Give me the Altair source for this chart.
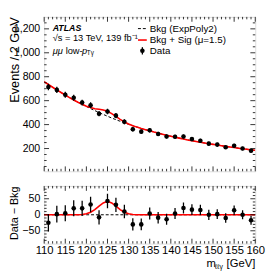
import altair as alt
import pandas as pd

# ---- data ----
mass = [111, 113, 115, 117, 119, 121, 123, 125, 127, 129, 131, 133, 135,
        137, 139, 141, 143, 145, 147, 149, 151, 153, 155, 157, 159]
events = [714, 690, 649, 624, 584, 562, 491, 510, 475, 423, 361, 341, 353,
          322, 300, 298, 300, 279, 265, 241, 233, 211, 224, 200, 181]
events_err = [27, 26, 25, 25, 24, 24, 22, 23, 22, 21, 19, 18, 19,
              18, 17, 17, 17, 17, 16, 16, 15, 15, 15, 14, 14]
resid = [-25, 2, 5, 20, 20, 32, -8, 43, 31, 10, -30, -30, 4,
         -9, -14, 4, 21, 16, 15, 0, 2, -10, 14, 0, -17]

curve_mass = list(range(110, 161))
bkg = [758, 735, 712, 690, 668, 647, 626, 606, 587, 569, 551, 534, 517, 501,
       485, 470, 455, 441, 428, 415, 402, 390, 379, 368, 358, 348, 338, 329,
       320, 311, 303, 295, 287, 279, 272, 265, 259, 252, 246, 240, 235, 229,
       224, 218, 213, 208, 203, 198, 194, 189, 185]
sig = [0, 0, 0, 0, 0, 0, 0, 0, 0, 1, 3, 8, 16, 27, 37, 42, 37, 27, 16, 8, 3, 1,
       0, 0, 0, 0, 0, 0, 0, 0, 0, 0, 0, 0, 0, 0, 0, 0, 0, 0, 0, 0, 0, 0, 0, 0,
       0, 0, 0, 0, 0]

x_major = [110, 115, 120, 125, 130, 135, 140, 145, 150, 155, 160]
x_minor = [v for v in range(110, 161) if v % 5 != 0]
yu_major = [200, 400, 600, 800, 1000, 1200]
yu_minor = [v for v in range(50, 1300, 50) if v % 200 != 0]
yl_major = [-50, 0, 50]
yl_minor = [v for v in range(-80, 90, 10) if v % 50 != 0]

# ---- tables ----
pts = pd.DataFrame({"m": mass, "n": events, "e": events_err, "r": resid})
pts["lo"] = pts["n"] - pts["e"]
pts["hi"] = pts["n"] + pts["e"]
pts["rlo"] = pts["r"] - pts["e"]
pts["rhi"] = pts["r"] + pts["e"]
cur = pd.DataFrame({"m": curve_mass, "b": bkg, "s": sig})
cur["bs"] = cur["b"] + cur["s"]
one = pd.DataFrame({"d": [0]})

W, HU, HL = 216, 158, 59
NARROW = "Liberation Sans Narrow, Arial Narrow, Liberation Sans, sans-serif"
REG = "Liberation Sans, Arial, sans-serif"

xs = alt.Scale(domain=[110, 160], nice=False, zero=False)
yus = alt.Scale(domain=[10, 1300], nice=False, zero=False)
yls = alt.Scale(domain=[-90, 90], nice=False, zero=False)

AX_YU = alt.Axis(
    values=yu_major, domain=False, ticks=False, grid=False,
    labelFont=NARROW, labelFontSize=10.8, labelColor="black",
    labelPadding=4.5, labelOverlap=False, labelFlush=False,
    title="Events / 2 GeV", titleFont=REG,
    titleFontSize=13, titleFontWeight="normal", titleColor="black",
    titleAngle=270, titleAlign="right", titleBaseline="alphabetic",
    titleX=-26, titleY=0)
AX_YL = alt.Axis(
    values=yl_major, domain=False, ticks=False, grid=False,
    labelFont=NARROW, labelFontSize=10.8, labelColor="black",
    labelPadding=4.5, labelOverlap=False, labelFlush=False,
    title="Data − Bkg", titleFont=REG,
    titleFontSize=11, titleFontWeight="normal", titleColor="black",
    titleAngle=270, titleAlign="center", titleBaseline="alphabetic",
    titleX=-27, titleY=27.5)
AX_XL = alt.Axis(
    values=x_major, domain=False, ticks=False, grid=False,
    labelFont=NARROW, labelFontSize=11.5, labelColor="black",
    labelPadding=1, labelFlush=False, labelOverlap=False, title=None)


def ticks(xvals, yvals, yscale, ln, H, xax, yax):
    dx = pd.DataFrame({"v": xvals})
    dy = pd.DataFrame({"v": yvals})
    X = alt.X("v:Q", scale=xs, axis=xax)
    Y = alt.Y("v:Q", scale=yscale, axis=yax)
    return [
        alt.Chart(dx).mark_rule(color="black", strokeWidth=0.8).encode(
            x=X, y=alt.value(H), y2=alt.value(H - ln)),
        alt.Chart(dx).mark_rule(color="black", strokeWidth=0.8).encode(
            x=X, y=alt.value(0), y2=alt.value(ln)),
        alt.Chart(dy).mark_rule(color="black", strokeWidth=0.8).encode(
            y=Y, x=alt.value(0), x2=alt.value(ln)),
        alt.Chart(dy).mark_rule(color="black", strokeWidth=0.8).encode(
            y=Y, x=alt.value(W), x2=alt.value(W - ln)),
    ]


def txt(s, x, y, size=10, font=NARROW, align="left", style="normal",
        weight="normal", color="black"):
    return alt.Chart(one).mark_text(
        align=align, baseline="middle", font=font, fontSize=size,
        fontStyle=style, fontWeight=weight, color=color).encode(
        x=alt.value(x), y=alt.value(y), text=alt.value(s))


# ---- upper panel ----
XU = dict(scale=xs, axis=None)
base_u = alt.Chart(cur)
bkg_line = base_u.mark_line(color="black", strokeDash=[3, 2], strokeWidth=1,
                            clip=True).encode(
    x=alt.X("m:Q", **XU), y=alt.Y("b:Q", scale=yus, axis=AX_YU))
sb_line = base_u.mark_line(color="#ff0000", strokeWidth=1.6, clip=True).encode(
    x=alt.X("m:Q", **XU), y=alt.Y("bs:Q", scale=yus, axis=AX_YU))
err_u = alt.Chart(pts).mark_rule(color="black", strokeWidth=1.3, clip=True).encode(
    x=alt.X("m:Q", **XU), y=alt.Y("lo:Q", scale=yus, axis=AX_YU), y2="hi:Q")
pt_u = alt.Chart(pts).mark_point(filled=True, color="black", size=22,
                                 opacity=1, clip=True).encode(
    x=alt.X("m:Q", **XU), y=alt.Y("n:Q", scale=yus, axis=AX_YU))

legend = [
    alt.Chart(one).mark_rule(color="black", strokeDash=[3, 2], strokeWidth=1).encode(
        x=alt.value(96), x2=alt.value(105), y=alt.value(12)),
    alt.Chart(one).mark_rule(color="#ff0000", strokeWidth=1.6).encode(
        x=alt.value(96), x2=alt.value(105), y=alt.value(23.7)),
    alt.Chart(one).mark_rule(color="black", strokeWidth=1.3).encode(
        x=alt.value(100.5), y=alt.value(31), y2=alt.value(38.5)),
    alt.Chart(one).mark_point(filled=True, color="black", size=22, opacity=1).encode(
        x=alt.value(100.5), y=alt.value(34.7)),
    txt("Bkg (ExpPoly2)", 108, 12),
    txt("Bkg + Sig (μ=1.5)", 108, 23.7),
    txt("Data", 108, 34.7),
]
labels = [
    txt("ATLAS", 8.7, 11, size=9, style="italic", weight="bold"),
    txt("√s = 13 TeV, 139 fb⁻¹", 8.7, 22, size=9.5),
    txt("μμ", 8.7, 34.5, size=9.5, style="italic"),
    txt("low-", 22, 34.5, size=9.5),
    txt("p", 38.6, 34.5, size=9.5, style="italic"),
    txt("Tγ", 43.6, 37.5, size=6.5),
]
anchor = alt.Chart(one).mark_rule(opacity=0, strokeWidth=0.01).encode(
    x=alt.value(-36), x2=alt.value(-30), y=alt.value(-5), y2=alt.value(0))

upper = alt.layer(
    bkg_line, sb_line, err_u, pt_u,
    *ticks(x_major, yu_major, yus, 5, HU, None, AX_YU),
    *ticks(x_minor, yu_minor, yus, 2.5, HU, None, AX_YU),
    *legend, *labels, anchor,
).properties(width=W, height=HU)

# ---- lower panel ----
zero_line = alt.Chart(one).mark_rule(color="black", strokeDash=[3, 2],
                                     strokeWidth=1).encode(
    y=alt.Y("d:Q", scale=yls, axis=AX_YL))
sig_line = alt.Chart(cur).mark_line(color="#ff0000", strokeWidth=1.6,
                                    clip=True).encode(
    x=alt.X("m:Q", scale=xs, axis=AX_XL), y=alt.Y("s:Q", scale=yls, axis=AX_YL))
err_l = alt.Chart(pts).mark_rule(color="black", strokeWidth=1.3, clip=True).encode(
    x=alt.X("m:Q", scale=xs, axis=AX_XL),
    y=alt.Y("rlo:Q", scale=yls, axis=AX_YL), y2="rhi:Q")
pt_l = alt.Chart(pts).mark_point(filled=True, color="black", size=22,
                                 opacity=1, clip=True).encode(
    x=alt.X("m:Q", scale=xs, axis=AX_XL), y=alt.Y("r:Q", scale=yls, axis=AX_YL))
xtitle = [
    txt("m", 166, 79.5, size=11.5),
    txt("ℓℓγ", 174.8, 82.5, size=7),
    txt("[GeV]", 216, 79.5, size=11.5, align="right"),
]

lower = alt.layer(
    zero_line, sig_line, err_l, pt_l,
    *ticks(x_major, yl_major, yls, 5, HL, AX_XL, AX_YL),
    *ticks(x_minor, yl_minor, yls, 2.5, HL, AX_XL, AX_YL),
    *xtitle,
).properties(width=W, height=HL)

chart = alt.vconcat(upper, lower, spacing=13).properties(
    padding=0
).configure_view(stroke="black", strokeWidth=1).configure_axis(
    labelOverlap=False, labelFlush=False
).configure(background="white")

chart.save("out.html", embed_options={"renderer": "svg", "actions": False})
